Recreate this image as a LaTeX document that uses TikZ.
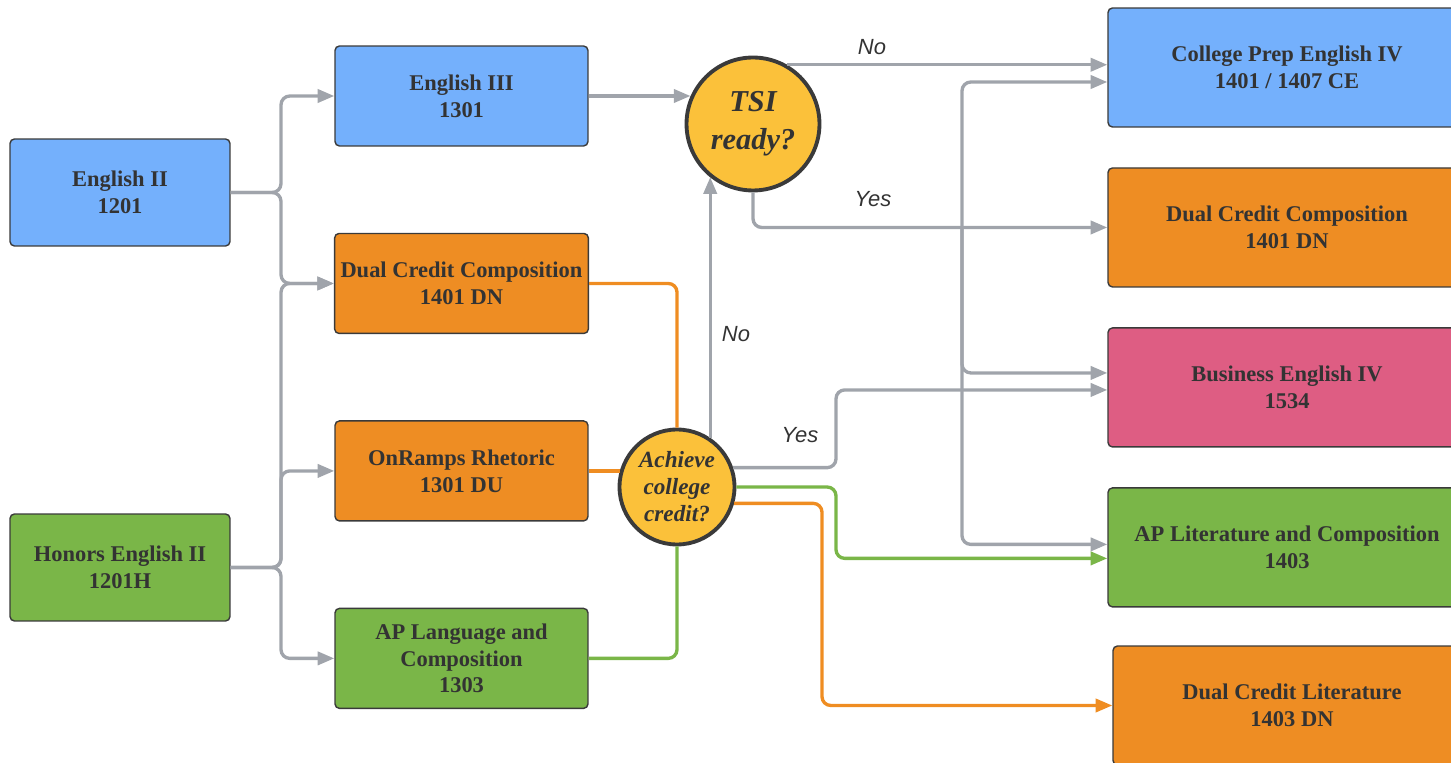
\documentclass[tikz,border=0pt]{standalone}
\usepackage{fontspec}
\setmainfont{Liberation Serif}
\newfontfamily\labelfont{Liberation Sans}
\usetikzlibrary{arrows.meta,calc}
\definecolor{boxblue}{HTML}{74B0FC}
\definecolor{boxorange}{HTML}{EE8D23}
\definecolor{boxgreen}{HTML}{7AB648}
\definecolor{boxpink}{HTML}{DE5D83}
\definecolor{qgold}{HTML}{FBC13A}
\definecolor{boxline}{HTML}{3A3A3A}
\definecolor{txt}{HTML}{333333}
\definecolor{linegray}{HTML}{A0A4AB}
\definecolor{lineorange}{HTML}{EF8D22}
\definecolor{linegreen}{HTML}{7AB648}

\tikzset{
	course/.style={draw=boxline, line width=0.8pt, rounded corners=2.5pt, align=center, text=txt,
		font=\fontsize{12.8}{15.3}\selectfont\bfseries},
	leftbox/.style={course, minimum width=4.4cm, minimum height=2.14cm},
	midbox/.style={course, minimum width=5.06cm, minimum height=2cm},
	rightbox/.style={course, minimum width=7.16cm, minimum height=2.38cm},
	decision/.style={circle, draw=boxline, line width=2.2pt, fill=qgold, align=center, text=txt, inner sep=0pt},
	lbl/.style={font=\labelfont\itshape\fontsize{12.5}{14}\selectfont, text=txt},
	link/.style={line width=1.9pt, rounded corners=5pt},
	conn/.style={link, draw=linegray, -{Triangle[length=9.5pt,width=7.5pt]}},
	oline/.style={link, draw=lineorange},
	gline/.style={link, draw=linegreen},
	oconn/.style={oline, -{Triangle[length=9.5pt,width=7.5pt]}},
	gconn/.style={gline, -{Triangle[length=9.5pt,width=7.5pt]}}
}

\begin{document}
\begin{tikzpicture}[x=0.02cm, y=-0.02cm, node distance = 3.75cm]
	\useasboundingbox (0,0) rectangle (1451,763);
	\clip (0,0) rectangle (1451,763);
	\node (eng2)[leftbox, fill=boxblue] at (120,192.5) {English II\\1201};
	\node (hon2)[leftbox, fill=boxgreen] at (120,567.5) {Honors English II\\1201H};
	\node (eng3)[midbox, fill=boxblue] at (461.5,96) {English III\\1301};
	\node (dcc)[midbox, fill=boxorange, below of = eng3] {Dual Credit Composition\\1401 DN};
	\node (onr)[midbox, fill=boxorange, below of = dcc] {OnRamps Rhetoric\\1301 DU};
	\node (apl)[midbox, fill=boxgreen, below of = onr] {AP Language and\\Composition\\1303};
	\node (tsi)[decision, minimum size=2.66cm, font=\fontsize{17.3}{21.5}\selectfont\bfseries\itshape] at (753,124) {TSI\\ready?};
	\node (ach)[decision, minimum size=2.3cm, font=\fontsize{13.2}{15.3}\selectfont\bfseries\itshape] at (677,487) {Achieve\\college\\credit?};
	\node (cpe)[rightbox, fill=boxblue] at (1287,67.5) {College Prep English IV\\1401 / 1407 CE};
	\node (dcr)[rightbox, fill=boxorange, node distance = 3.2cm, below of = cpe] {Dual Credit Composition\\1401 DN};
	\node (bus)[rightbox, fill=boxpink, node distance = 3.2cm, below of = dcr] {Business English IV\\1534};
	\node (apl4)[rightbox, fill=boxgreen, node distance = 3.2cm, below of = bus] {AP Literature and Composition\\1403};
	\node (dcl)[rightbox, fill=boxorange] at (1292,705.5) {Dual Credit Literature\\1403 DN};
	\node (tsino)[lbl] at (872,47) {No};
	\node (tsiyes)[lbl] at (873,199) {Yes};
	\node (achno)[lbl] at (736,334) {No};
	\node (achyes)[lbl] at (800,435) {Yes};
	\coordinate (j1) at (281,192.5);
	\coordinate (j2) at (281,567.5);
	\coordinate (trunk) at (962,226.5);
	\coordinate (bendy) at (836,0);
	\coordinate (bendo) at (822,0);
	\draw[conn] (eng2.east) -- (j1) |- (eng3.west);
	\draw[conn] (eng2.east) -- (j1) |- (dcc.west);
	\draw[conn] (hon2.east) -- (j2) |- (dcc.west);
	\draw[conn] (hon2.east) -- (j2) |- (onr.west);
	\draw[conn] (hon2.east) -- (j2) |- (apl.west);
	\draw[conn] (eng3.east) -- (eng3.east -| tsi.156);
	\draw[conn] (tsi.60) -- (tsi.60 -| cpe.west);
	\draw[conn] (tsi.south) |- (dcr.west);
	\draw[conn] (trunk) |- ($(cpe.west)+(0,14.5)$);
	\draw[conn] (trunk) |- ($(bus.west)+(0,-14.5)$);
	\draw[conn] (trunk) |- ($(apl4.west)+(0,-3)$);
	\draw[oline] (dcc.east) -| (ach.north);
	\draw[oline] (onr.east) -- (onr.east -| ach.164);
	\draw[gline] (apl.east) -| (ach.south);
	\draw[conn] (ach.56) -- (ach.56 |- tsi.231);
	\draw[conn] (ach.19) -- (ach.19 -| bendy) |- ($(bus.west)+(0,2.5)$);
	\draw[gconn] (ach.east) -- (ach.east -| bendy) |- ($(apl4.west)+(0,11)$);
	\draw[oconn] (ach.-16) -- (ach.-16 -| bendo) |- (dcl.west);
\end{tikzpicture}
\end{document}
